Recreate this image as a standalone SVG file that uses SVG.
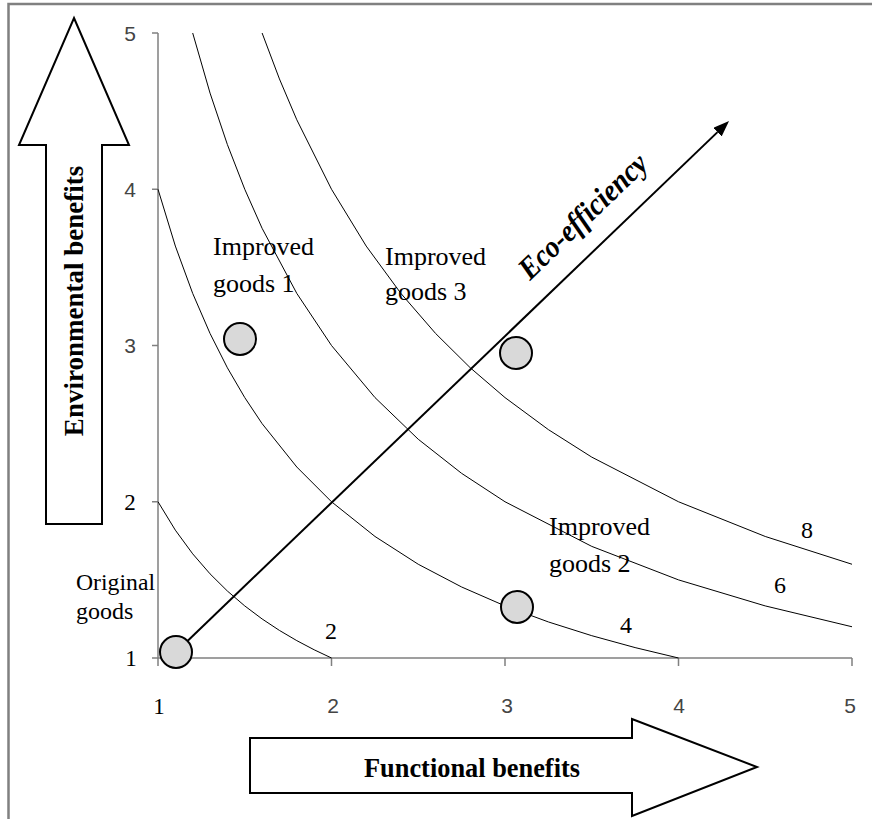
<svg xmlns="http://www.w3.org/2000/svg" width="872" height="819" viewBox="0 0 872 819">
<style>
.frame{stroke:#808080;stroke-width:2.5;fill:none}
.axis{stroke:#808080;stroke-width:1.5;fill:none}
.curve{stroke:#000;stroke-width:1;fill:none}
.big{fill:#fff;stroke:#000;stroke-width:2}
.dot{fill:#d9d9d9;stroke:#000;stroke-width:2}
.lbl{font-family:"Liberation Serif","Times New Roman",serif;font-size:26px;fill:#000}
.sm{font-size:24px}
.num{font-family:"Liberation Sans",Arial,sans-serif;font-size:21px;fill:#444}
.nums{font-family:"Liberation Serif","Times New Roman",serif;font-size:23px;fill:#000}
.bold{font-family:"Liberation Serif","Times New Roman",serif;font-size:27px;font-weight:bold;fill:#000}
.eco{font-family:"Liberation Serif","Times New Roman",serif;font-size:31px;font-weight:bold;font-style:italic;fill:#000}
</style>
<defs>
<marker id="ah" viewBox="0 0 16 12" refX="0" refY="6" markerWidth="16" markerHeight="12" markerUnits="userSpaceOnUse" orient="auto">
<path d="M0,0 L16,6 L0,12 z" fill="#000"/>
</marker>
</defs>
<rect width="872" height="819" fill="#fff"/>
<path class="frame" d="M8.5,819 L8.5,4 L872,4"/>
<g id="axes">
<path class="axis" d="M158,33 L158,658 L852,658"/>
<path class="axis" d="M152,33H158M152,189.25H158M152,345.5H158M152,501.75H158M152,658H158"/>
<path class="axis" d="M158,658V666M331.5,658V666M505,658V666M678.5,658V666M852,658V666"/>
<text class="num" x="130" y="41" text-anchor="middle">5</text>
<text class="num" x="130" y="197" text-anchor="middle">4</text>
<text class="num" x="130" y="353" text-anchor="middle">3</text>
<text class="nums" x="130" y="510" text-anchor="middle">2</text>
<text class="nums" x="131" y="666" text-anchor="middle">1</text>
<text class="nums" x="159" y="714" text-anchor="middle">1</text>
<text class="num" x="333" y="713" text-anchor="middle">2</text>
<text class="num" x="507" y="713" text-anchor="middle">3</text>
<text class="num" x="679" y="713" text-anchor="middle">4</text>
<text class="num" x="850" y="713" text-anchor="middle">5</text>
</g>
<g id="curves">
<polyline class="curve" points="158,501.75 175.35,530.16 192.7,553.83 210.05,573.86 227.4,591.04 244.75,605.92 262.1,618.94 279.45,630.43 296.8,640.64 314.15,649.78 331.5,658"/>
<polyline class="curve" points="158,189.25 175.35,246.07 192.7,293.42 210.05,333.48 227.4,367.82 244.75,397.58 262.1,423.63 296.8,467.03 331.5,501.75 375,536.47 418.25,564.25 461.6,586.98 505,605.92 548.4,621.94 591.75,635.68 635.1,647.58 678.5,658"/>
<polyline class="curve" points="192.7,33 210.05,93.1 227.4,144.61 244.75,189.25 262.1,228.31 296.8,293.42 331.5,345.5 375,397.58 418.25,439.25 461.6,473.34 505,501.75 591.75,546.39 678.5,579.88 765.25,605.92 852,626.75"/>
<polyline class="curve" points="262.1,33 279.45,78.95 296.8,119.81 331.5,189.25 366.2,246.07 400.9,293.42 435.6,333.48 470.3,367.82 505,397.58 548.4,429.63 591.75,457.11 678.5,501.75 765.25,536.47 852,564.25"/>
<text class="lbl sm" x="331" y="639" text-anchor="middle">2</text>
<text class="lbl sm" x="626" y="633" text-anchor="middle">4</text>
<text class="lbl sm" x="780" y="593" text-anchor="middle">6</text>
<text class="lbl sm" x="807" y="538" text-anchor="middle">8</text>
</g>
<g id="env-arrow">
<polygon class="big" points="74,18 129,145 102,145 102,524 46,524 46,145 19,145"/>
<text class="bold" transform="translate(83,301) rotate(-90)" text-anchor="middle">Environmental benefits</text>
</g>
<g id="func-arrow">
<polygon class="big" points="250,738 632,738 632,719 757,767 632,816 632,793 250,793"/>
<text class="bold" x="472" y="777" text-anchor="middle" textLength="216" lengthAdjust="spacingAndGlyphs">Functional benefits</text>
</g>
<g id="connectors">
<line x1="187.5" y1="641" x2="717.5" y2="132.1" stroke="#000" stroke-width="2" marker-end="url(#ah)"/>
<text class="eco" transform="translate(530,281) rotate(-43.8)" textLength="166" lengthAdjust="spacingAndGlyphs">Eco-efficiency</text>
</g>
<g id="original-goods">
<circle class="dot" cx="176" cy="652" r="16"/>
<text class="lbl sm" x="76" y="590" textLength="79" lengthAdjust="spacingAndGlyphs">Original</text>
<text class="lbl sm" x="76" y="619">goods</text>
</g>
<g id="improved-goods-1">
<circle class="dot" cx="240" cy="339" r="16"/>
<text class="lbl" x="213" y="255">Improved</text>
<text class="lbl" x="213" y="292">goods 1</text>
</g>
<g id="improved-goods-3">
<circle class="dot" cx="516" cy="353" r="16"/>
<text class="lbl" x="385" y="265">Improved</text>
<text class="lbl" x="385" y="300">goods 3</text>
</g>
<g id="improved-goods-2">
<circle class="dot" cx="517" cy="607" r="16"/>
<text class="lbl" x="549" y="535">Improved</text>
<text class="lbl" x="549" y="572">goods 2</text>
</g>
</svg>
